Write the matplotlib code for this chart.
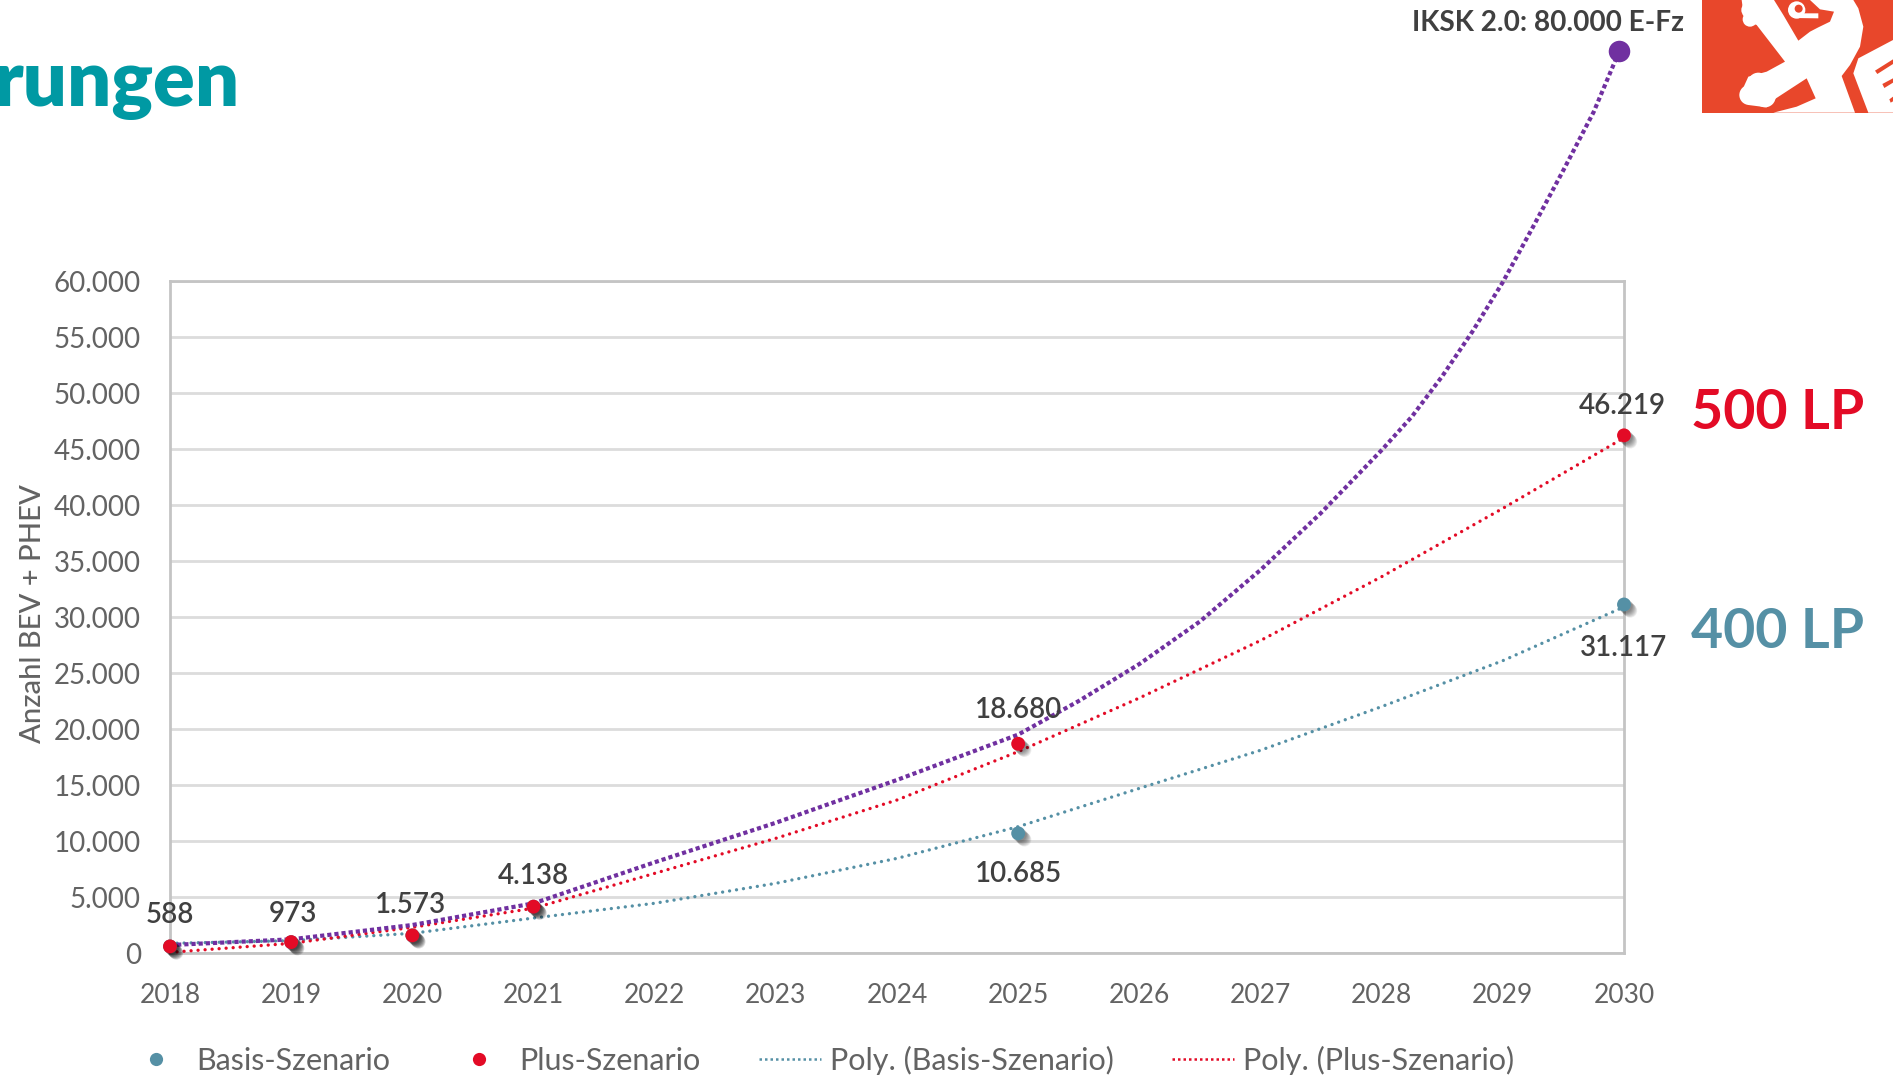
import matplotlib
matplotlib.use("Agg")
import matplotlib.pyplot as plt
import matplotlib.patheffects as pe
from matplotlib.lines import Line2D
from matplotlib.patches import Circle, Polygon, Rectangle
from matplotlib.ticker import FuncFormatter

W, H = 1893, 1078
plt.rcParams['font.family'] = ['Lato', 'DejaVu Sans']

# Scenario values
years_tick = list(range(2018, 2031))
basis_years = [2018, 2019, 2020, 2021, 2025, 2030]
basis_values = [588, 973, 1573, 4138, 10685, 31117]
plus_years = [2018, 2019, 2020, 2021, 2025, 2030]
plus_values = [588, 973, 1573, 4138, 18680, 46219]
point_labels = ['588', '973', '1.573', '4.138', '18.680', '10.685', '46.219', '31.117']

# Trend curves
basis_trend_x = [2018, 2019, 2020, 2021, 2022, 2023, 2024, 2025, 2026, 2027, 2028, 2029, 2030]
basis_trend = [860, 1100, 1760, 3120, 4440, 6220, 8450, 11280, 14700, 18100, 22000, 26100, 30900]
plus_trend_x = [2018, 2019, 2020, 2021, 2022, 2023, 2024, 2025, 2026, 2027, 2028, 2029, 2030]
plus_trend = [60, 860, 2290, 4000, 7110, 10240, 13660, 17980, 22770, 27900, 33600, 39700, 46000]
iksk_x = [2018, 2019, 2020, 2021, 2022, 2023, 2024, 2025, 2025.5, 2026, 2026.5, 2027, 2027.5, 2028,
          2028.25, 2028.5, 2028.75, 2029, 2029.25, 2029.5, 2029.75, 2029.96]
iksk_y = [710, 1220, 2500, 4430, 8100, 11630, 15450, 19500, 22500, 25800, 29600, 34200, 39300, 44900,
          47900, 51500, 55500, 59900, 64850, 69900, 75100, 80500]

TEAL = '#5590A5'
RED = '#E30B26'
PURPLE = '#7030A0'
DARK = '#404040'
GREY = '#636363'

fig = plt.figure(figsize=(W / 100, H / 100), dpi=100, facecolor='white')
ax = fig.add_axes([170 / W, (H - 953) / H, 1454 / W, 672 / H])
ax.set_xlim(2018, 2030)
ax.set_ylim(0, 60000)

ax.set_yticks(range(0, 60001, 5000))
ax.yaxis.set_major_formatter(FuncFormatter(lambda v, _: f"{int(v):,}".replace(",", ".")))
ax.set_xticks(years_tick)
ax.tick_params(axis='both', length=0, labelcolor=GREY)
ax.tick_params(axis='y', pad=21, labelsize=20)
ax.tick_params(axis='x', pad=21.5, labelsize=19)
ax.grid(axis='y', color='#DCDCDC', lw=2)
ax.set_axisbelow(True)
for spine in ax.spines.values():
    spine.set_color('#C4C4C4')
    spine.set_linewidth(2)

ax.set_ylabel('Anzahl BEV + PHEV', fontsize=21, color=GREY, fontweight='medium')
ax.yaxis.set_label_coords(-124 / 1454, 0.505)

# Dotted trend lines
dots = dict(lw=2.4, ls=(0, (0.01, 2.1)), dash_capstyle='round', clip_on=False, zorder=3)
ax.plot(basis_trend_x, basis_trend, color=TEAL, **dots)
ax.plot(plus_trend_x, plus_trend, color=RED, **dots)
ax.plot(iksk_x, iksk_y, color=PURPLE, lw=3.0, ls=(0, (1, 0.72)), clip_on=False, zorder=4)

# Soft drop shadow under the scenario points, built from faint stacked copies
shadow = [pe.SimplePatchShadow(offset=(d, -d), shadow_rgbFace='#000000', alpha=0.07)
          for d in (4.5, 4, 3.5, 3, 2.5, 2, 1.5, 1)]
shadow.append(pe.Normal())
ax.plot(basis_years, basis_values, ls='none', marker='o', ms=10, color=TEAL, mew=0,
        clip_on=False, zorder=5, path_effects=shadow)
ax.plot(plus_years, plus_values, ls='none', marker='o', ms=10, color=RED, mew=0,
        clip_on=False, zorder=5, path_effects=shadow)
ax.plot(iksk_x[-1], iksk_y[-1], ls='none', marker='o', ms=15.5, color=PURPLE, mew=0,
        clip_on=False, zorder=6)

# Value labels, offsets in points from each mark
label_x = [2018, 2019, 2020, 2021, 2025, 2025, 2030, 2030]
label_y = [588, 973, 1573, 4138, 18680, 10685, 46219, 31117]
label_off = [(0, 22.5), (1, 20), (-1, 22), (0, 22), (0, 24), (0, -29.5), (-1, 21), (0, -31)]
for x, y, txt, off in zip(label_x, label_y, point_labels, label_off):
    ax.annotate(txt, (x, y), xytext=off, textcoords='offset points', ha='center', va='center',
                fontsize=20, color=DARK, fontweight='semibold', zorder=7)

handles = [
    Line2D([], [], ls='none', marker='o', ms=9.5, mew=0, color=TEAL),
    Line2D([], [], ls='none', marker='o', ms=9.5, mew=0, color=RED),
    Line2D([], [], color=TEAL, lw=1.8, ls=(0, (1, 1.2))),
    Line2D([], [], color=RED, lw=1.8, ls=(0, (1, 1.2))),
]
labels = ['Basis-Szenario', 'Plus-Szenario', 'Poly. (Basis-Szenario)', 'Poly. (Plus-Szenario)']
fig.legend(handles, labels, ncol=4, loc='center left', bbox_to_anchor=(125 / W, (H - 1060) / H),
           frameon=False, fontsize=22, labelcolor=GREY, borderpad=0, borderaxespad=0,
           handlelength=2.03, handletextpad=0.3, columnspacing=1.9)

# Full-figure layer in pixel units for the slide furniture
top = fig.add_axes([0, 0, 1, 1], zorder=10)
top.set_xlim(0, W)
top.set_ylim(H, 0)
top.axis('off')
top.patch.set_alpha(0)

top.text(240, 106, 'rungen', ha='right', va='baseline', fontsize=56, fontweight='heavy', color='#0099A3')
top.text(1684, 23, 'IKSK 2.0: 80.000 E-Fz', ha='right', va='center', fontsize=20.2, fontweight='bold', color=DARK)
top.text(1864, 413, '500 LP', ha='right', va='center', fontsize=40, fontweight='bold', color=RED)
top.text(1864, 632, '400 LP', ha='right', va='center', fontsize=40, fontweight='bold', color=TEAL)


def logo_xy(points):
    return [(1650 + x / 3, y / 3) for x, y in points]


LOGO_RED = '#E8472B'
body = [(275, 0), (283, 60), (320, 75), (405, 185), (350, 215), (295, 230), (270, 285), (295, 315),
        (350, 322), (378, 295), (470, 235), (497, 295), (440, 320), (370, 338), (615, 338),
        (575, 228), (600, 195), (630, 140), (640, 80), (625, 25), (610, 0)]
mouth = [(372, 0), (400, 45), (445, 122), (480, 95), (505, 82), (540, 65), (552, 35), (510, 28), (480, 0)]
curl = [(425, 40), (505, 40), (505, 55), (430, 54)]
chest = [(729, 120), (625, 175), (610, 220), (655, 338), (729, 338)]
stripes = [[(675, 212), (729, 178), (729, 192), (682, 222)],
           [(697, 252), (729, 235), (729, 248), (703, 264)],
           [(718, 298), (729, 290), (729, 304), (722, 308)]]
top.add_patch(Rectangle((1702, 0), W - 1702, 113, color=LOGO_RED, lw=0))
top.add_patch(Polygon(logo_xy(body), color='white', lw=0))
top.add_patch(Polygon(logo_xy(mouth), color=LOGO_RED, lw=0))
top.add_patch(Circle((1650 + 440 / 3, 30 / 3), 26 / 3, color='white', lw=0))
top.add_patch(Circle((1650 + 446 / 3, 26 / 3), 12 / 3, color=LOGO_RED, lw=0))
top.add_patch(Polygon(logo_xy(curl), color='white', lw=0))
top.add_patch(Polygon(logo_xy(chest), color='white', lw=0))
for stripe in stripes:
    top.add_patch(Polygon(logo_xy(stripe), color=LOGO_RED, lw=0))
for cx, cy, r in [(298, 285, 30), (325, 250, 32), (345, 290, 32), (300, 30, 26), (300, 58, 22)]:
    top.add_patch(Circle((1650 + cx / 3, cy / 3), r / 3, color='white', lw=0))

fig.savefig('out.png', dpi=100)
